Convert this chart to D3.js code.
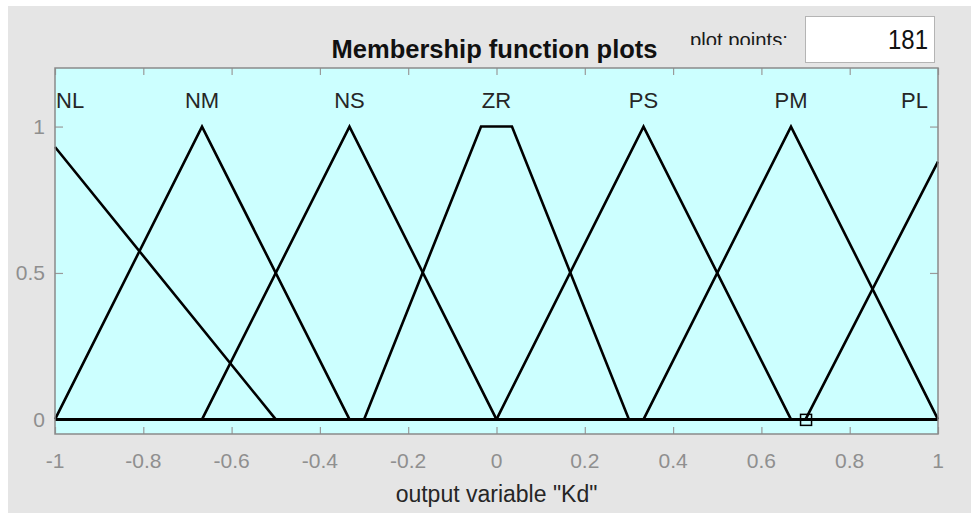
<!DOCTYPE html>
<html>
<head>
<meta charset="utf-8">
<script src="https://cdn.jsdelivr.net/npm/d3@7"></script>
<style>
  html, body { margin: 0; padding: 0; background: #ffffff; }
  svg { display: block; font-family: "Liberation Sans", Arial, Helvetica, sans-serif; }
</style>
</head>
<body>
<svg id="chart" width="971" height="513"></svg>
<script>
// Membership functions of the output variable "Kd" (breakpoints, x then mu)
const mfNames = ["NL", "NM", "NS", "ZR", "PS", "PM", "PL"];
const mfPoints = [
  [[-1, 0.93], [-0.5, 0], [1, 0]],
  [[-1, 0], [-0.667, 1], [-0.333, 0], [1, 0]],
  [[-1, 0], [-0.667, 0], [-0.333, 1], [0, 0], [1, 0]],
  [[-1, 0], [-0.3, 0], [-0.035, 1], [0.035, 1], [0.3, 0], [1, 0]],
  [[-1, 0], [0, 0], [0.333, 1], [0.667, 0], [1, 0]],
  [[-1, 0], [0.333, 0], [0.667, 1], [1, 0]],
  [[-1, 0], [0.7, 0], [1, 0.88]]
];
// label anchor positions along x (peak of each function, clamped at the ends)
const labelX = [-1, -0.667, -0.333, 0, 0.333, 0.667, 1];
const xTicks = [-1, -0.8, -0.6, -0.4, -0.2, 0, 0.2, 0.4, 0.6, 0.8, 1];
const yTicks = [0, 0.5, 1];
const markerPoint = [0.7, 0];
const plotPoints = 181;

const svg = d3.select("#chart");

// figure background
svg.append("rect").attr("x", 8).attr("y", 6).attr("width", 963).attr("height", 507)
  .attr("fill", "#e5e5e5");

const x = d3.scaleLinear().domain([-1, 1]).range([55, 938]);
const y = d3.scaleLinear().domain([-0.05, 1.2]).range([434, 68]);

// axes box
svg.append("rect")
  .attr("x", x(-1)).attr("y", y(1.2))
  .attr("width", x(1) - x(-1)).attr("height", y(-0.05) - y(1.2))
  .attr("fill", "#ccffff");

// tick marks on all four sides (inward)
const tickColor = "#9a9a9a";
const fmt = d => d3.format("")(d).replace("−", "-");

const xAxisB = svg.append("g").attr("transform", `translate(0,${y(-0.05)})`)
  .call(d3.axisBottom(x).tickValues(xTicks).tickSize(-7).tickFormat(""));
const xAxisT = svg.append("g").attr("transform", `translate(0,${y(1.2)})`)
  .call(d3.axisTop(x).tickValues(xTicks).tickSize(-7).tickFormat(""));
const yAxisL = svg.append("g").attr("transform", `translate(${x(-1)},0)`)
  .call(d3.axisLeft(y).tickValues(yTicks).tickSize(-8).tickFormat(""));
const yAxisR = svg.append("g").attr("transform", `translate(${x(1)},0)`)
  .call(d3.axisRight(y).tickValues(yTicks).tickSize(-8).tickFormat(""));
[xAxisB, xAxisT, yAxisL, yAxisR].forEach(g => {
  g.select(".domain").remove();
  g.selectAll("line").attr("stroke", tickColor).attr("stroke-width", 1.2);
});

// tick labels
svg.append("g").selectAll("text").data(xTicks).join("text")
  .attr("x", d => x(d)).attr("y", 468)
  .attr("text-anchor", "middle")
  .attr("font-size", 21).attr("fill", "#8f8f8f")
  .text(d => String(d));
svg.append("g").selectAll("text").data(yTicks).join("text")
  .attr("x", 45).attr("y", d => y(d) + 7.5)
  .attr("text-anchor", "end")
  .attr("font-size", 21).attr("fill", "#8f8f8f")
  .text(d => String(d));

// membership function curves
const line = d3.line().x(d => x(d[0])).y(d => y(d[1]));
svg.append("g").selectAll("path").data(mfPoints).join("path")
  .attr("d", line)
  .attr("fill", "none")
  .attr("stroke", "#000")
  .attr("stroke-width", 2.6);

// selected point marker
svg.append("rect")
  .attr("x", x(markerPoint[0]) - 5).attr("y", y(markerPoint[1]) - 5)
  .attr("width", 11).attr("height", 11)
  .attr("fill", "none").attr("stroke", "#000").attr("stroke-width", 1.5);

// axes outline
svg.append("rect")
  .attr("x", x(-1)).attr("y", y(1.2))
  .attr("width", x(1) - x(-1)).attr("height", y(-0.05) - y(1.2))
  .attr("fill", "none").attr("stroke", "#8a8a8a").attr("stroke-width", 1.5);

// function names
svg.append("g").selectAll("text").data(mfNames).join("text")
  .attr("x", (d, i) => x(labelX[i]) + (i === 0 ? 1 : i === mfNames.length - 1 ? -10 : 0))
  .attr("y", 108)
  .attr("text-anchor", (d, i) => i === 0 ? "start" : i === mfNames.length - 1 ? "end" : "middle")
  .attr("font-size", 22).attr("fill", "#262626")
  .text(d => d);

// title
svg.append("text")
  .attr("x", 494.5).attr("y", 58)
  .attr("text-anchor", "middle")
  .attr("font-size", 25).attr("font-weight", "bold").attr("fill", "#111")
  .attr("textLength", 326).attr("lengthAdjust", "spacingAndGlyphs")
  .text("Membership function plots");

// x axis label
svg.append("text")
  .attr("x", 496.5).attr("y", 502)
  .attr("text-anchor", "middle")
  .attr("font-size", 23).attr("fill", "#262626")
  .text('output variable "Kd"');

// plot points control
svg.append("defs").append("clipPath").attr("id", "ppClip")
  .append("rect").attr("x", 680).attr("y", 20).attr("width", 120).attr("height", 25);
svg.append("text")
  .attr("clip-path", "url(#ppClip)")
  .attr("x", 739).attr("y", 47)
  .attr("text-anchor", "middle")
  .attr("font-size", 20).attr("fill", "#1a1a1a")
  .attr("textLength", 98).attr("lengthAdjust", "spacingAndGlyphs")
  .text("plot points:");
svg.append("rect")
  .attr("x", 805.5).attr("y", 16.5).attr("width", 129).attr("height", 46)
  .attr("fill", "#ffffff").attr("stroke", "#b4b4b4").attr("stroke-width", 1);
svg.append("text")
  .attr("x", 928).attr("y", 49)
  .attr("text-anchor", "end")
  .attr("font-size", 27).attr("fill", "#111")
  .attr("textLength", 40).attr("lengthAdjust", "spacingAndGlyphs")
  .text(String(plotPoints));
</script>
</body>
</html>
